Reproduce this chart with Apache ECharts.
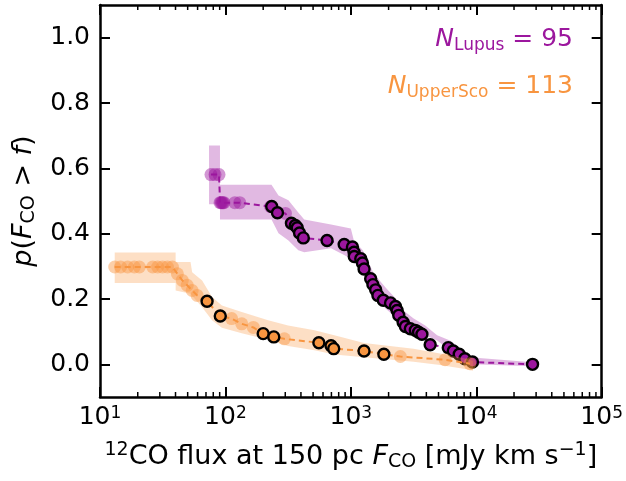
<!DOCTYPE html>
<html><head><meta charset="utf-8">
<script src="https://cdn.jsdelivr.net/npm/echarts@6/dist/echarts.min.js"></script>
<style>html,body{margin:0;padding:0;background:#fff}#c{width:626px;height:481px}</style>
</head><body><div id="c"></div>
<script>
// ---- Lupus (purple) ----
const lupusDetX = [234, 260, 336, 361, 374, 390, 418, 646, 885, 1030, 1061, 1065, 1200, 1238, 1275, 1439, 1500, 1577, 1644, 1814, 2072, 2269, 2340, 2410, 2611, 2724, 2981, 3266, 3467, 3687, 4290, 5984, 6557, 7314, 8110, 9330, 28100];
const lupusDetY = [0.483, 0.464, 0.432, 0.425, 0.418, 0.402, 0.387, 0.379, 0.367, 0.359, 0.343, 0.330, 0.323, 0.310, 0.292, 0.262, 0.244, 0.228, 0.211, 0.196, 0.188, 0.177, 0.165, 0.150, 0.129, 0.116, 0.109, 0.104, 0.098, 0.092, 0.060, 0.051, 0.041, 0.031, 0.017, 0.007, 0.0];
const lupusLimX = [76.7, 82.6, 88.9, 90.6, 92.3, 94.0, 95.6, 97.4, 119, 130, 229, 301];
const lupusLimY = [0.581, 0.581, 0.581, 0.495, 0.495, 0.495, 0.495, 0.495, 0.495, 0.495, 0.483, 0.462];
const lupusBandX = [74, 90.5, 90.5, 233, 265, 318, 381, 425, 695, 1000, 1057, 1245, 1363, 1520, 1891, 2269, 2625, 3148, 3917, 4874, 6177, 7822, 9380, 28000];
const lupusBandHi = [0.67, 0.67, 0.55, 0.55, 0.517, 0.502, 0.465, 0.443, 0.428, 0.416, 0.379, 0.349, 0.318, 0.278, 0.235, 0.202, 0.165, 0.141, 0.119, 0.089, 0.073, 0.043, 0.021, 0.006];
const lupusBandLo = [0.49, 0.49, 0.443, 0.443, 0.401, 0.379, 0.349, 0.343, 0.355, 0.324, 0.312, 0.287, 0.235, 0.211, 0.171, 0.144, 0.128, 0.113, 0.089, 0.073, 0.043, 0.021, 0.0, -0.006];

// ---- Upper Sco (orange) ----
const uscoDetX = [71.4, 91.0, 200, 243, 556, 695, 730, 1274, 1833];
const uscoDetY = [0.193, 0.148, 0.094, 0.084, 0.066, 0.057, 0.048, 0.041, 0.031];
const uscoLimX = [13.1, 14.6, 16.6, 18.8, 20.6, 26.3, 28.8, 31.5, 34.5, 37.8, 41.4, 45.3, 49.6, 54.3, 59.5, 112, 135, 167, 295, 2483, 5640, 8890];
const uscoLimY = [0.298, 0.298, 0.298, 0.298, 0.298, 0.298, 0.298, 0.298, 0.298, 0.298, 0.277, 0.257, 0.242, 0.226, 0.211, 0.140, 0.124, 0.113, 0.078, 0.024, 0.014, 0.002];
const uscoBandX = [13.1, 40.1, 40.1, 52.7, 54.3, 65.2, 78.2, 93.7, 135, 219, 316, 513, 738, 1274, 3162, 5140, 8370, 9400];
const uscoBandHi = [0.342, 0.342, 0.313, 0.313, 0.282, 0.257, 0.206, 0.180, 0.160, 0.135, 0.119, 0.104, 0.089, 0.065, 0.048, 0.033, 0.017, 0.010];
const uscoBandLo = [0.249, 0.249, 0.226, 0.216, 0.210, 0.175, 0.135, 0.112, 0.095, 0.075, 0.056, 0.043, 0.030, 0.022, 0.008, -0.002, -0.015, -0.020];

// ---- axes ----
const yTickVals = [0.0, 0.2, 0.4, 0.6, 0.8, 1.0];
const lupusN = 95, uscoN = 113;

const PURPLE = '#9c179e', ORANGE = '#f89540';
const FONT = 'DejaVu Sans';
const FS = 25;   // tick labels
const LFS = 27;  // axis titles
const SFS = 19;  // sub/superscripts in titles

function pairs(xs, ys) { return xs.map((x, i) => [x, ys[i]]); }
function merged(a, b) { return a.concat(b).sort((p, q) => p[0] - q[0]); }

const minorTicks = [];
for (let e = 1; e < 5; e++) for (let m = 2; m <= 9; m++) minorTicks.push(m * Math.pow(10, e));

function bandSeries(xs, hi, lo, color, z) {
  return {
    type: 'custom', silent: true, z: z, clip: true, data: [[1000, 0.5]],
    renderItem: function (params, api) {
      const pts = [];
      for (let i = 0; i < xs.length; i++) pts.push(api.coord([xs[i], hi[i]]));
      for (let i = xs.length - 1; i >= 0; i--) pts.push(api.coord([xs[i], lo[i]]));
      return { type: 'polygon', shape: { points: pts }, style: { fill: color, opacity: 0.3 } };
    }
  };
}
function lineSeries(data, color, z) {
  return { type: 'line', data: data, symbol: 'none', z: z, silent: true,
    lineStyle: { color: color, width: 2, type: [6, 4] } };
}
function limSeries(data, color, z) {
  return { type: 'scatter', data: data, symbol: 'circle', symbolSize: 13, z: z, silent: true,
    itemStyle: { color: color, opacity: 0.45 } };
}
function detSeries(data, color, z) {
  return { type: 'scatter', data: data, symbol: 'circle', symbolSize: 11, z: z, silent: true,
    itemStyle: { color: color, borderColor: '#000', borderWidth: 2.4, opacity: 1 } };
}

const axisLine = { show: true, onZero: false, lineStyle: { color: '#000', width: 2.5 } };
const majorTick = { show: true, inside: true, length: 10, lineStyle: { color: '#000', width: 2 } };

const chart = echarts.init(document.getElementById('c'), null, { renderer: 'canvas' });
chart.setOption({
  animation: false,
  backgroundColor: '#fff',
  grid: { left: 97, right: 22, top: 5, bottom: 84, containLabel: false },
  xAxis: [
    { type: 'log', logBase: 10, min: 10, max: 100000, position: 'bottom',
      axisLine: axisLine, axisTick: majorTick, splitLine: { show: false },
      axisLabel: { margin: 8, color: '#000',
        formatter: v => '{b|10}{s|' + Math.round(Math.log10(v)) + '}',
        rich: { b: { fontSize: FS, fontFamily: FONT, color: '#000', lineHeight: 25, verticalAlign: 'bottom' },
                s: { fontSize: 17, fontFamily: FONT, color: '#000', lineHeight: 17, verticalAlign: 'top' } } },
      name: '{sup|12}CO flux at 150 pc {it|F}{sub|CO} [mJy km s{sup|\u22121}]',
      nameLocation: 'middle', nameGap: 44,
      nameTextStyle: { fontSize: LFS, fontFamily: FONT, color: '#000', lineHeight: 31,
        rich: { sup: { fontSize: SFS, fontFamily: FONT, color: '#000', verticalAlign: 'top', lineHeight: SFS },
                it: { fontSize: LFS, fontFamily: FONT, color: '#000', fontStyle: 'italic', lineHeight: 31 },
                sub: { fontSize: SFS, fontFamily: FONT, color: '#000', verticalAlign: 'bottom', lineHeight: SFS } } } },
    { type: 'log', logBase: 10, min: 10, max: 100000, position: 'top',
      axisLine: axisLine, axisTick: majorTick, splitLine: { show: false }, axisLabel: { show: false } }
  ],
  yAxis: [
    { type: 'value', min: -0.1, max: 1.1, position: 'left',
      axisLine: axisLine, axisTick: Object.assign({}, majorTick, { customValues: yTickVals }),
      splitLine: { show: false },
      axisLabel: { customValues: yTickVals, margin: 10, fontSize: FS, fontFamily: FONT, color: '#000',
        formatter: v => Number(v).toFixed(1) },
      name: '{it|p}({it|F}{sub|CO} > {it|f})', nameLocation: 'middle', nameRotate: 90, nameGap: 61,
      nameTextStyle: { fontSize: LFS, fontFamily: FONT, color: '#000', lineHeight: 31,
        rich: { it: { fontSize: LFS, fontFamily: FONT, color: '#000', fontStyle: 'italic', lineHeight: 31 },
                sub: { fontSize: SFS, fontFamily: FONT, color: '#000', verticalAlign: 'bottom', lineHeight: SFS } } } },
    { type: 'value', min: -0.1, max: 1.1, position: 'right',
      axisLine: axisLine, axisTick: Object.assign({}, majorTick, { customValues: yTickVals }),
      splitLine: { show: false }, axisLabel: { show: false } }
  ],
  graphic: [
    { type: 'text', x: 573, y: 54, z: 100,
      style: { text: '{it|N}{sub|Lupus} = ' + lupusN, align: 'right', verticalAlign: 'bottom',
        fill: PURPLE, fontSize: 25, fontFamily: FONT, lineHeight: 30,
        rich: { it: { fontStyle: 'italic', fontSize: 25, fontFamily: FONT, fill: PURPLE, lineHeight: 30 },
                sub: { fontSize: 17, fontFamily: FONT, fill: PURPLE, verticalAlign: 'bottom', lineHeight: 17 } } } },
    { type: 'text', x: 573, y: 101, z: 100,
      style: { text: '{it|N}{sub|UpperSco} = ' + uscoN, align: 'right', verticalAlign: 'bottom',
        fill: ORANGE, fontSize: 25, fontFamily: FONT, lineHeight: 30,
        rich: { it: { fontStyle: 'italic', fontSize: 25, fontFamily: FONT, fill: ORANGE, lineHeight: 30 },
                sub: { fontSize: 17, fontFamily: FONT, fill: ORANGE, verticalAlign: 'bottom', lineHeight: 17 } } } }
  ],
  series: [
    bandSeries(lupusBandX, lupusBandHi, lupusBandLo, PURPLE, 1),
    lineSeries(merged(pairs(lupusLimX, lupusLimY), pairs(lupusDetX, lupusDetY)), PURPLE, 2),
    limSeries(pairs(lupusLimX, lupusLimY), PURPLE, 3),
    detSeries(pairs(lupusDetX, lupusDetY), PURPLE, 4),
    bandSeries(uscoBandX, uscoBandHi, uscoBandLo, ORANGE, 5),
    lineSeries(merged(pairs(uscoLimX, uscoLimY), pairs(uscoDetX, uscoDetY)), ORANGE, 6),
    limSeries(pairs(uscoLimX, uscoLimY), ORANGE, 7),
    detSeries(pairs(uscoDetX, uscoDetY), ORANGE, 8),
    { type: 'custom', silent: true, z: 20, clip: false, data: minorTicks.map(v => [v, 0.5]),
      renderItem: function (params, api) {
        const v = api.value(0);
        const b = api.coord([v, -0.1]);
        const t = api.coord([v, 1.1]);
        return { type: 'group', children: [
          { type: 'line', shape: { x1: b[0], y1: b[1], x2: b[0], y2: b[1] - 5 }, style: { stroke: '#000', lineWidth: 1.5 } },
          { type: 'line', shape: { x1: t[0], y1: t[1], x2: t[0], y2: t[1] + 5 }, style: { stroke: '#000', lineWidth: 1.5 } }
        ] };
      } }
  ]
});
</script></body></html>
